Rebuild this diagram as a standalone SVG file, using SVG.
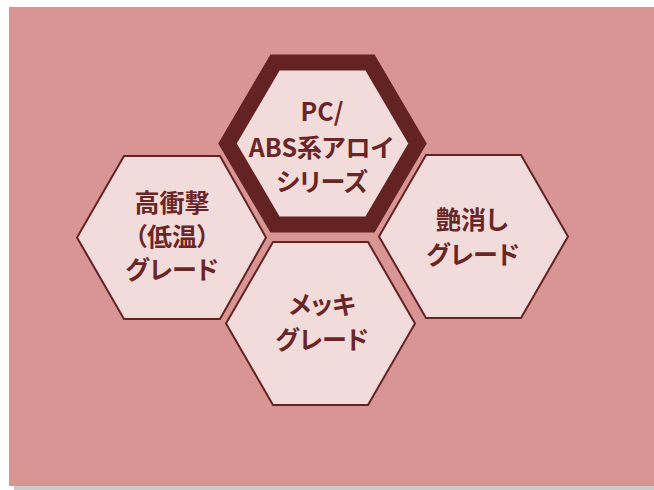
<svg xmlns="http://www.w3.org/2000/svg" width="654" height="490" viewBox="0 0 654 490">
<style>
.hex{fill:#f2dcdb;stroke:#632323;stroke-width:2;stroke-linejoin:miter}
.main{fill:#f2dcdb;stroke:#632323;stroke-width:16;stroke-linejoin:miter}
.t{font-family:"Noto Sans CJK JP","Noto Sans",sans-serif;font-weight:bold;font-size:25px;fill:#6a2626;text-anchor:middle;font-feature-settings:"palt"}
</style>
<rect x="14" y="486" width="640" height="4" fill="#c9c9c9"/>
<rect x="9" y="7" width="645" height="479" fill="#d99594"/>
<g id="node-left">
<polygon class="hex" points="77,237.5 124,156 220,156 266,237.5 220,319 124,319"/>
<text class="t" x="172" y="212">高衝撃</text>
<text class="t" x="172" y="246">（低温）</text>
<text class="t" x="172" y="279">グレード</text>
</g>
<g id="node-right">
<polygon class="hex" points="379,236.5 426,155 521,155 568,236.5 521,318 426,318"/>
<text class="t" x="472" y="229">艶消し</text>
<text class="t" x="473" y="264">グレード</text>
</g>
<g id="node-bottom">
<polygon class="hex" points="226,323.5 273,242 368,242 415,323.5 368,405 273,405"/>
<text class="t" x="322" y="314">メッキ</text>
<text class="t" x="322" y="349">グレード</text>
</g>
<g id="node-main">
<polygon class="main" points="227.5,143.5 275,62.5 370,62.5 417.5,143.5 370,224.5 275,224.5"/>
<text class="t" x="322" y="121">PC/</text>
<text class="t" x="321" y="157">ABS系アロイ</text>
<text class="t" x="322" y="191">シリーズ</text>
</g>
<g id="connectors"/>
</svg>
